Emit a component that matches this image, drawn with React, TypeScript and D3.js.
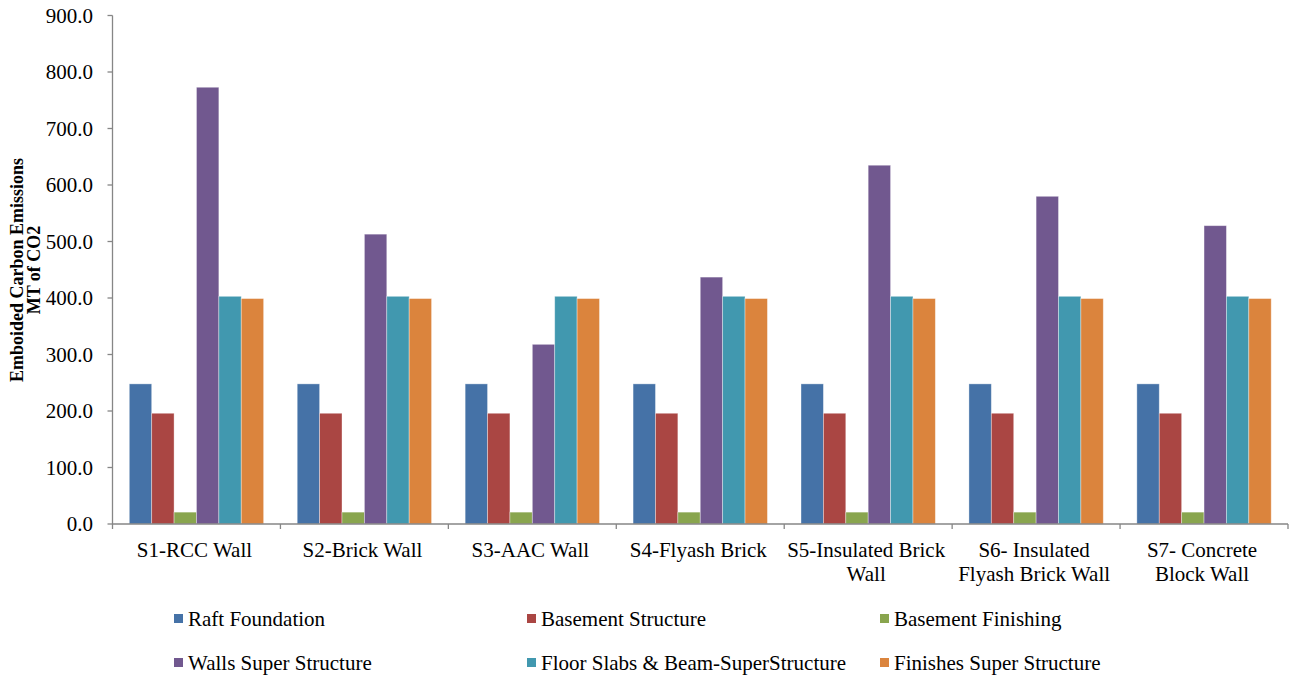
import React from "react";
import * as d3 from "d3";

const categories: string[][] = [
  ["S1-RCC Wall"],
  ["S2-Brick Wall"],
  ["S3-AAC Wall"],
  ["S4-Flyash Brick"],
  ["S5-Insulated Brick", "Wall"],
  ["S6- Insulated", "Flyash Brick Wall"],
  ["S7- Concrete", "Block Wall"],
];

const seriesNames = [
  "Raft Foundation",
  "Basement Structure",
  "Basement Finishing",
  "Walls Super Structure",
  "Floor Slabs & Beam-SuperStructure",
  "Finishes Super Structure",
];

const raftFoundation = [248, 248, 248, 248, 248, 248, 248];
const basementStructure = [196, 196, 196, 196, 196, 196, 196];
const basementFinishing = [21, 21, 21, 21, 21, 21, 21];
const wallsSuperStructure = [773, 513, 318, 437, 635, 580, 528];
const floorSlabs = [403, 403, 403, 403, 403, 403, 403];
const finishesSuperStructure = [399, 399, 399, 399, 399, 399, 399];

const seriesValues = [
  raftFoundation,
  basementStructure,
  basementFinishing,
  wallsSuperStructure,
  floorSlabs,
  finishesSuperStructure,
];

const colors = ["#4572A7", "#AA4643", "#89A54E", "#71588F", "#4198AF", "#DB843D"];

const yTicks = [0, 100, 200, 300, 400, 500, 600, 700, 800, 900];

const W = 1295;
const H = 677;
const left = 112.5;
const right = 1288;
const top = 15.5;
const bottom = 524;
const FONT = "Liberation Serif, Times New Roman, serif";
const FS = 21;

export default function App() {
  const idx = categories.map((_, i) => i);
  const x0 = d3.scaleBand<number>().domain(idx).range([left, right]).padding(0);
  const bw = x0.bandwidth();
  const gap = (bw / 7.5) * 1.5;
  const x1 = d3
    .scaleBand<number>()
    .domain(seriesNames.map((_, i) => i))
    .range([gap / 2, bw - gap / 2])
    .padding(0);
  const y = d3.scaleLinear().domain([0, 900]).range([bottom, top]);
  const axisColor = "#868686";

  const legendCols = [174, 527, 880];
  const legendRows = [619, 663];
  const ts = { fontFamily: FONT } as React.CSSProperties;

  return (
    <div style={{ position: "absolute", left: 0, top: 0 }}>
      <svg width={W} height={H} style={{ display: "block", background: "#fff" }}>
        {seriesValues.map((vals, s) =>
          vals.map((v, c) => (
            <rect
              key={`b${s}-${c}`}
              x={(x0(c) as number) + (x1(s) as number)}
              y={y(v)}
              width={x1.bandwidth()}
              height={y(0) - y(v)}
              fill={colors[s]}
              stroke="#ffffff"
              strokeOpacity={0.45}
              strokeWidth={0.8}
            />
          ))
        )}
        <line x1={left} x2={left} y1={top} y2={bottom} stroke={axisColor} strokeWidth={1.3} />
        {yTicks.map((t) => (
          <g key={`yt${t}`}>
            <line x1={left - 5} x2={left} y1={y(t)} y2={y(t)} stroke={axisColor} strokeWidth={1.3} />
            <text x={93} y={y(t)} dy="0.35em" textAnchor="end" fontSize={FS} fill="#000" style={ts}>
              {t.toFixed(1)}
            </text>
          </g>
        ))}
        <line x1={left} x2={right} y1={bottom} y2={bottom} stroke={axisColor} strokeWidth={1.3} />
        {[...idx, idx.length].map((i) => {
          const xx = i < idx.length ? (x0(i) as number) : right;
          return <line key={`xt${i}`} x1={xx} x2={xx} y1={bottom} y2={bottom + 5} stroke={axisColor} strokeWidth={1.3} />;
        })}
        {categories.map((lines, i) => (
          <text key={`cl${i}`} y={550} textAnchor="middle" fontSize={FS} fill="#000" style={ts}>
            {lines.map((ln, k) => (
              <tspan key={k} x={(x0(i) as number) + bw / 2 - 2} dy={k === 0 ? "0.35em" : 24}>
                {ln}
              </tspan>
            ))}
          </text>
        ))}
        <text transform="translate(17,270) rotate(-90)" textAnchor="middle" fontSize={18} fontWeight="bold" fill="#000" dy="0.35em" style={ts}>
          Emboided Carbon Emissions
        </text>
        <text transform="translate(34,270) rotate(-90)" textAnchor="middle" fontSize={18} fontWeight="bold" fill="#000" dy="0.35em" style={ts}>
          MT of CO2
        </text>
        {seriesNames.map((name, s) => {
          const cx = legendCols[s % 3];
          const cy = legendRows[Math.floor(s / 3)];
          return (
            <g key={`lg${s}`}>
              <rect x={cx} y={cy - 5} width={9} height={9} fill={colors[s]} />
              <text x={cx + 14} y={cy} dy="0.35em" fontSize={FS} fill="#000" style={ts}>
                {name}
              </text>
            </g>
          );
        })}
      </svg>
    </div>
  );
}
